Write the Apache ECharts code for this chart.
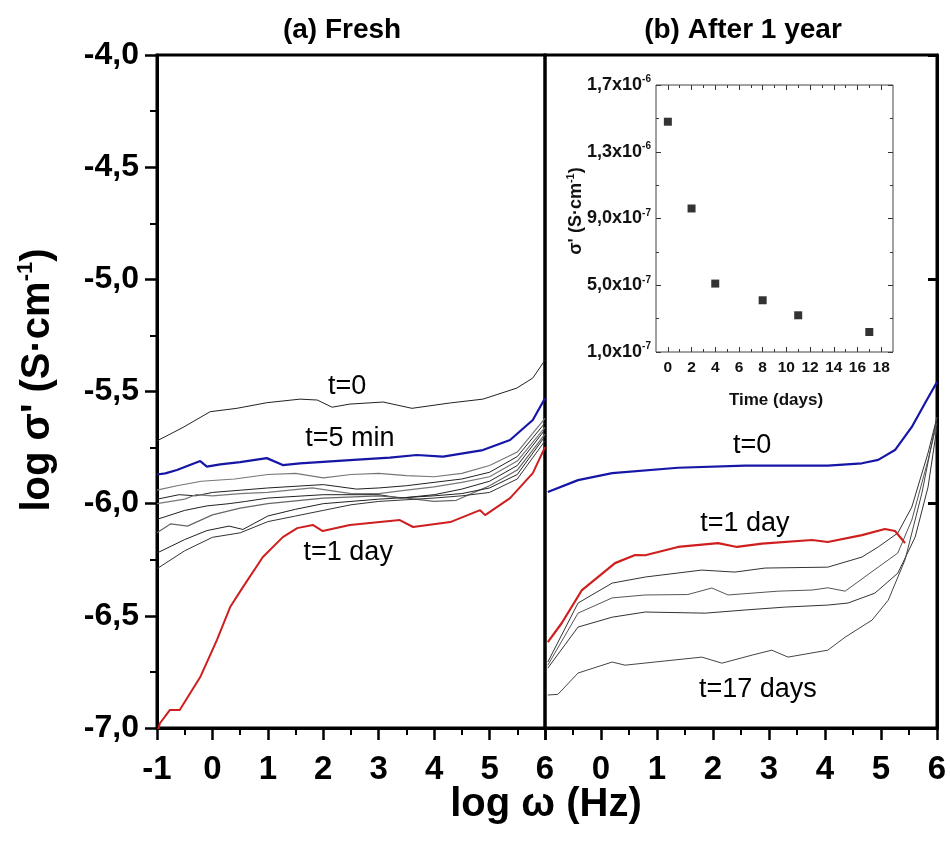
<!DOCTYPE html>
<html><head><meta charset="utf-8">
<script src="https://cdn.jsdelivr.net/npm/echarts@6/dist/echarts.min.js"></script>
<style>html,body{margin:0;padding:0;background:#fff}#c{width:950px;height:848px}</style>
</head><body><div id="c"></div>
<script>
// ---------- Data ----------
// (a) Fresh
const freshT0 = [[-1,-5.72],[-0.53,-5.66],[-0.04,-5.59],[0.44,-5.575],[0.98,-5.55],[1.58,-5.534],[1.89,-5.538],[2.16,-5.57],[2.48,-5.556],[3.08,-5.547],[3.6,-5.575],[4.29,-5.551],[4.88,-5.534],[5.49,-5.485],[5.78,-5.44],[6,-5.36]];
const freshT5min = [[-1,-5.87],[-0.85,-5.865],[-0.64,-5.85],[-0.22,-5.81],[-0.1,-5.835],[0.14,-5.825],[0.5,-5.815],[0.98,-5.797],[1.27,-5.828],[1.58,-5.82],[2.48,-5.806],[3.2,-5.795],[3.69,-5.783],[4.16,-5.79],[4.88,-5.761],[5.37,-5.716],[5.78,-5.627],[6,-5.53]];
const freshC1 = [[-1,-5.94],[-0.64,-5.92],[-0.2,-5.90],[0.4,-5.89],[1,-5.87],[1.5,-5.865],[2,-5.885],[2.5,-5.87],[3,-5.865],[3.5,-5.875],[4,-5.88],[4.5,-5.865],[5,-5.83],[5.5,-5.77],[6,-5.62]];
const freshC2 = [[-1,-5.98],[-0.6,-5.96],[-0.3,-5.965],[0,-5.95],[0.5,-5.94],[1,-5.93],[2,-5.915],[2.6,-5.935],[3,-5.93],[3.5,-5.92],[4,-5.905],[4.5,-5.89],[5,-5.86],[5.5,-5.79],[6,-5.64]];
const freshC3 = [[-1,-6.00],[-0.5,-5.98],[-0.3,-5.96],[0,-5.965],[0.5,-5.955],[1,-5.95],[1.8,-5.93],[2.5,-5.955],[3,-5.955],[3.5,-5.94],[4,-5.925],[4.5,-5.905],[5,-5.88],[5.5,-5.81],[6,-5.66]];
const freshC4 = [[-1,-6.07],[-0.5,-6.03],[-0.1,-6.01],[0.3,-6.0],[0.6,-5.99],[1,-5.975],[2,-5.96],[3,-5.96],[3.4,-5.975],[4,-5.96],[4.5,-5.935],[5,-5.90],[5.5,-5.83],[6,-5.67]];
const freshC5 = [[-1,-6.13],[-0.75,-6.09],[-0.45,-6.1],[0,-6.05],[0.5,-6.02],[1,-6.0],[2,-5.975],[3,-5.965],[3.5,-5.975],[4,-5.99],[4.4,-5.985],[5,-5.92],[5.5,-5.85],[6,-5.69]];
const freshC6 = [[-1,-6.22],[-0.5,-6.16],[-0.1,-6.12],[0.3,-6.10],[0.55,-6.115],[1,-6.055],[1.5,-6.025],[2,-6.0],[3,-5.98],[4,-5.965],[4.5,-5.955],[5,-5.93],[5.5,-5.87],[6,-5.70]];
const freshC7 = [[-1,-6.29],[-0.5,-6.21],[0,-6.15],[0.5,-6.13],[1,-6.08],[1.5,-6.055],[2,-6.03],[2.5,-6.005],[3,-5.99],[4,-5.975],[4.5,-5.965],[5,-5.95],[5.5,-5.89],[6,-5.72]];
const freshT1day = [[-1,-7.03],[-0.95,-6.98],[-0.77,-6.92],[-0.59,-6.92],[-0.22,-6.773],[0.08,-6.608],[0.32,-6.461],[0.55,-6.372],[0.91,-6.238],[1.27,-6.149],[1.53,-6.109],[1.81,-6.095],[1.99,-6.122],[2.48,-6.095],[3.38,-6.073],[3.62,-6.104],[4.29,-6.082],[4.83,-6.029],[4.92,-6.051],[5.37,-5.975],[5.78,-5.864],[6,-5.748]];
// (b) After 1 year
const agedT0 = [[-0.95,-5.948],[-0.41,-5.895],[0.2,-5.864],[1.375,-5.84],[2.57,-5.83],[4.05,-5.83],[4.66,-5.82],[4.95,-5.805],[5.25,-5.761],[5.55,-5.658],[5.79,-5.55],[6,-5.458]];
const agedT1day = [[-0.95,-6.617],[-0.7,-6.532],[-0.34,-6.385],[0.25,-6.265],[0.61,-6.229],[0.79,-6.23],[1.375,-6.193],[2.09,-6.176],[2.43,-6.193],[2.875,-6.178],[3.77,-6.162],[4.05,-6.171],[4.66,-6.14],[5.07,-6.113],[5.25,-6.122],[5.43,-6.176]];
const agedC1 = [[-0.95,-6.706],[-0.41,-6.443],[0.2,-6.354],[0.79,-6.327],[1.8,-6.296],[2.39,-6.305],[2.93,-6.287],[4.05,-6.283],[4.66,-6.238],[4.95,-6.193],[5.3,-6.131],[5.55,-6.015],[5.84,-5.774],[6,-5.614]];
const agedC2 = [[-0.95,-6.72],[-0.41,-6.488],[0.2,-6.42],[0.79,-6.407],[1.55,-6.405],[1.98,-6.376],[2.27,-6.407],[3.16,-6.39],[3.77,-6.385],[4.05,-6.375],[4.36,-6.39],[4.95,-6.283],[5.3,-6.22],[5.55,-6.073],[5.84,-5.806],[6,-5.64]];
const agedC3 = [[-0.95,-6.733],[-0.41,-6.55],[0.2,-6.506],[0.79,-6.483],[1.86,-6.488],[2.57,-6.474],[3.29,-6.461],[4.05,-6.452],[4.41,-6.443],[4.89,-6.399],[5.3,-6.31],[5.61,-6.149],[5.84,-5.926],[6,-5.658]];
const agedT17days = [[-0.95,-6.853],[-0.77,-6.85],[-0.41,-6.755],[0.2,-6.706],[0.43,-6.72],[0.96,-6.706],[1.8,-6.684],[2.16,-6.711],[2.7,-6.675],[3.05,-6.653],[3.34,-6.684],[4.05,-6.653],[4.36,-6.595],[4.84,-6.519],[5.13,-6.43],[5.43,-6.25],[5.73,-5.953],[6,-5.614]];
// inset
const insetDays = [0, 2, 4, 8, 11, 17];
const insetSigma = [1.48e-6, 9.6e-7, 5.1e-7, 4.1e-7, 3.2e-7, 2.2e-7];
// tick values
const insetXLabels = [0, 2, 4, 6, 8, 10, 12, 14, 16, 18];
const insetXMinor = [1, 3, 5, 7, 9, 11, 13, 15, 17];
const insetYLabels = [1e-7, 5e-7, 9e-7, 1.3e-6, 1.7e-6];
const insetYMinor = [3e-7, 7e-7, 1.1e-6, 1.5e-6];
// annotations (data coordinates)
const freshNotes = [['t=0', 2.43, -5.48], ['t=5 min', 2.48, -5.708], ['t=1 day', 2.45, -6.22]];
const agedNotes = [['t=0', 2.70, -5.739], ['t=1 day', 2.57, -6.087], ['t=17 days', 2.80, -6.83]];

// ---------- Chart ----------
const SANS = "'Liberation Sans', Arial, sans-serif";
const BLUE = '#1616a6', RED = '#cf1e1e';
const chart = echarts.init(document.getElementById('c'));

function mainX(grid, hideFirst) {
  return {
    gridIndex: grid, type: 'value', min: -1, max: 6, interval: 1,
    axisLine: {show: true, onZero: false, lineStyle: {color: '#000', width: 3}},
    axisTick: {show: true, inside: false, length: 12, lineStyle: {color: '#000', width: 2.5}},
    minorTick: {show: true, splitNumber: 2, length: 7, lineStyle: {color: '#000', width: 2}},
    axisLabel: {show: true, showMinLabel: true, showMaxLabel: true, margin: 25, color: '#000',
      fontFamily: SANS, fontWeight: 'bold', fontSize: 33,
      formatter: v => (hideFirst && v === -1) ? '' : String(v)},
    splitLine: {show: false}
  };
}
function insetAxis(kind, grid, pos, vals, len, labels) {
  const isX = kind === 'x';
  const a = {
    gridIndex: grid, type: 'value', position: pos,
    min: isX ? -1 : 1e-7, max: isX ? 19 : 1.7e-6,
    axisLine: {show: false, onZero: false},
    axisTick: {show: true, inside: true, length: len, customValues: vals, lineStyle: {color: '#333', width: 1}},
    axisLabel: {show: false},
    splitLine: {show: false}
  };
  if (labels) {
    a.axisLabel = isX ? {show: true, customValues: vals, margin: 8, color: '#111',
        fontFamily: SANS, fontWeight: 'bold', fontSize: 15.5}
      : {show: true, customValues: vals, margin: 5, color: '#111',
        formatter: v => {
          const e = Math.floor(Math.log10(v) + 1e-9);
          const m = (v / Math.pow(10, e)).toFixed(1).replace('.', ',');
          return '{m|' + m + 'x10}{e|' + e + '}';
        },
        rich: {m: {fontFamily: SANS, fontWeight: 'bold', fontSize: 18, color: '#111', lineHeight: 21},
               e: {fontFamily: SANS, fontWeight: 'bold', fontSize: 10, color: '#111', verticalAlign: 'top', lineHeight: 10}}};
  }
  return a;
}
function line(data, x, y, color, width, z) {
  return {type: 'line', data: data, xAxisIndex: x, yAxisIndex: y, showSymbol: false, symbol: 'none',
    lineStyle: {color: color, width: width}, z: z || 2, animation: false, silent: true, clip: true};
}

const insetRect = {left: 656, top: 85, width: 237, height: 267};
const option = {
  animation: false,
  backgroundColor: '#fff',
  grid: [
    {left: 157, top: 55, width: 388, height: 673, show: true, borderColor: '#000', borderWidth: 3, backgroundColor: 'transparent'},
    {left: 545, top: 55, width: 392, height: 673, show: true, borderColor: '#000', borderWidth: 3, backgroundColor: 'transparent'},
    Object.assign({show: true, borderColor: '#444', borderWidth: 1, backgroundColor: 'transparent', z: 5}, insetRect),
    Object.assign({show: false}, insetRect)
  ],
  xAxis: [
    mainX(0, false),
    mainX(1, true),
    insetAxis('x', 2, 'bottom', insetXLabels, 5, true),
    insetAxis('x', 2, 'top', insetXLabels, 5, false),
    insetAxis('x', 3, 'bottom', insetXMinor, 3, false),
    insetAxis('x', 3, 'top', insetXMinor, 3, false)
  ],
  yAxis: [
    {gridIndex: 0, type: 'value', min: -7, max: -4, interval: 0.5,
     axisLine: {show: true, onZero: false, lineStyle: {color: '#000', width: 3}},
     axisTick: {show: true, inside: false, length: 12, lineStyle: {color: '#000', width: 2.5}},
     minorTick: {show: true, splitNumber: 2, length: 7, lineStyle: {color: '#000', width: 2}},
     axisLabel: {show: true, margin: 18, color: '#000', fontFamily: SANS, fontWeight: 'bold', fontSize: 32,
       showMinLabel: true, showMaxLabel: true, formatter: v => v.toFixed(1).replace('.', ',')},
     splitLine: {show: false}},
    {gridIndex: 1, type: 'value', position: 'right', min: -7, max: -4, interval: 1,
     axisLine: {show: true, onZero: false, lineStyle: {color: '#000', width: 3}},
     axisTick: {show: true, inside: true, length: 9, lineStyle: {color: '#000', width: 3}},
     axisLabel: {show: false}, splitLine: {show: false}},
    insetAxis('y', 2, 'left', insetYLabels, 5, true),
    insetAxis('y', 2, 'right', insetYLabels, 5, false),
    insetAxis('y', 3, 'left', insetYMinor, 3, false),
    insetAxis('y', 3, 'right', insetYMinor, 3, false)
  ],
  series: [
    line(freshT0, 0, 0, '#222', 1),
    line(freshC1, 0, 0, '#777', 1.2),
    line(freshC2, 0, 0, '#222', 1),
    line(freshC3, 0, 0, '#777', 1.2),
    line(freshC4, 0, 0, '#222', 1),
    line(freshC5, 0, 0, '#666', 1.2),
    line(freshC6, 0, 0, '#222', 1),
    line(freshC7, 0, 0, '#333', 1),
    line(freshT5min, 0, 0, BLUE, 2.2, 3),
    line(freshT1day, 0, 0, RED, 2, 3),
    line(agedC1, 1, 1, '#333', 1),
    line(agedC2, 1, 1, '#555', 1),
    line(agedC3, 1, 1, '#333', 1),
    line(agedT17days, 1, 1, '#444', 1),
    line(agedT0, 1, 1, BLUE, 2.2, 3),
    line(agedT1day, 1, 1, RED, 2.2, 3),
    {type: 'scatter', xAxisIndex: 2, yAxisIndex: 2, symbol: 'rect', symbolSize: 8,
     itemStyle: {color: '#000'}, data: insetDays.map((d, i) => [d, insetSigma[i]]), z: 6, animation: false, silent: true}
  ]
};
chart.setOption(option);

const graphics = [];
function note(list, grid) {
  list.forEach(n => {
    const p = chart.convertToPixel({gridIndex: grid}, [n[1], n[2]]);
    graphics.push({type: 'text', x: p[0], y: p[1], z: 20,
      style: {text: n[0], fill: '#000', font: "27px 'Liberation Sans', Arial, sans-serif", textAlign: 'center', textVerticalAlign: 'middle'}});
  });
}
note(freshNotes, 0);
note(agedNotes, 1);
// panel titles
graphics.push({type: 'text', x: 342, y: 30, z: 20, style: {text: '(a) Fresh', fill: '#000', font: "bold 28px 'Liberation Sans', Arial, sans-serif", textAlign: 'center', textVerticalAlign: 'middle'}});
graphics.push({type: 'text', x: 743, y: 30, z: 20, style: {text: '(b) After 1 year', fill: '#000', font: "bold 28px 'Liberation Sans', Arial, sans-serif", textAlign: 'center', textVerticalAlign: 'middle'}});
// main axis titles
graphics.push({type: 'text', x: 546, y: 805, z: 20, style: {
  rich: {b: {fontFamily: SANS, fontWeight: 'bold', fontSize: 40, fill: '#000'}},
  text: '{b|log ω (Hz)}', textAlign: 'center', textVerticalAlign: 'middle'}});
graphics.push({type: 'text', x: 38, y: 380, rotation: Math.PI / 2, z: 20, style: {
  text: "{b|log σ' (S·cm}{s|-1}{b|)}",
  rich: {b: {fontFamily: SANS, fontWeight: 'bold', fontSize: 40, fill: '#000', lineHeight: 46},
         s: {fontFamily: SANS, fontWeight: 'bold', fontSize: 22, fill: '#000', verticalAlign: 'top', lineHeight: 22}},
  textAlign: 'center', textVerticalAlign: 'middle'}});
// inset axis titles
graphics.push({type: 'text', x: 776, y: 400, z: 20, style: {text: 'Time (days)', fill: '#111', font: "bold 17px 'Liberation Sans', Arial, sans-serif", textAlign: 'center', textVerticalAlign: 'middle'}});
graphics.push({type: 'text', x: 576, y: 211, rotation: Math.PI / 2, z: 20, style: {
  text: "{b|σ' (S·cm}{s|-1}{b|)}",
  rich: {b: {fontFamily: SANS, fontWeight: 'bold', fontSize: 18, fill: '#111', lineHeight: 21},
         s: {fontFamily: SANS, fontWeight: 'bold', fontSize: 11, fill: '#111', verticalAlign: 'top', lineHeight: 11}},
  textAlign: 'center', textVerticalAlign: 'middle'}});
chart.setOption({graphic: graphics});
</script>
</body></html>
